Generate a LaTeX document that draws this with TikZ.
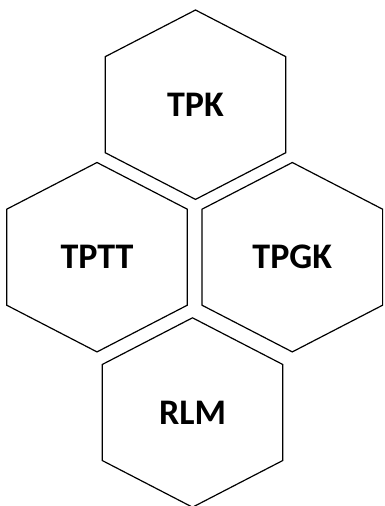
\documentclass[tikz,border=0pt]{standalone}
\usepackage{fontspec}
\setmainfont{Carlito}
\begin{document}
\begin{tikzpicture}[x=1pt,y=-1pt,
  hexline/.style={line width=1.2pt,line join=miter,draw=black},
  hexlabel/.style={font=\bfseries\fontsize{36}{40}\selectfont,inner sep=0pt}]
\useasboundingbox (0,0) rectangle (385,506);
\clip (0,0) rectangle (385,506);
\newcommand{\hexat}[3]{%
  \draw[hexline] (#1,#2) ++(0,-94.7) -- ++(90.3,46.7) -- ++(0,96) -- ++(-90.3,46.7)
    -- ++(-90.3,-46.7) -- ++(0,-96) -- cycle;
  \node[hexlabel] (#3) at (#1,#2) {#3};}
\hexat{195.5}{104.7}{TPK}
\hexat{97}{257.2}{TPTT}
\hexat{292.3}{257.2}{TPGK}
\hexat{192.5}{412.5}{RLM}
\end{tikzpicture}
\end{document}
